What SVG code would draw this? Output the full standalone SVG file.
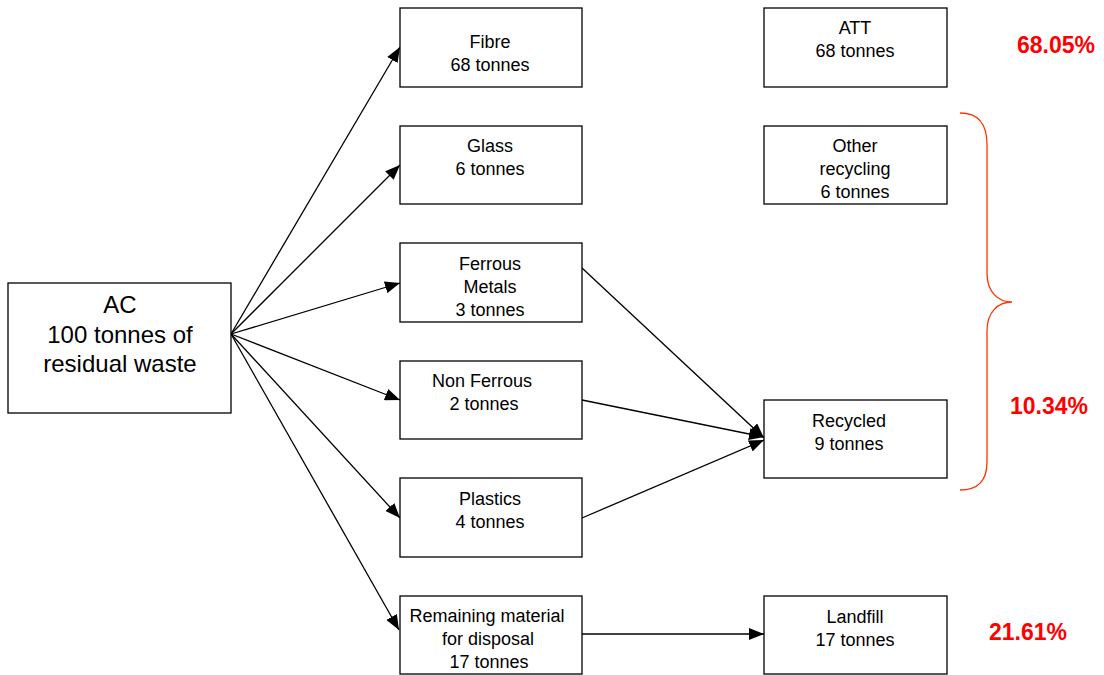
<svg xmlns="http://www.w3.org/2000/svg" width="1104" height="675" viewBox="0 0 1104 675">
<style>
.box{fill:#fff;stroke:#000;stroke-width:1.3}
.t{font-family:"Liberation Sans",Arial,sans-serif;font-size:18px;fill:#000;text-anchor:middle}
.big{font-size:24px}
.pct{font-family:"Liberation Sans",Arial,sans-serif;font-size:23px;font-weight:bold;fill:#f00}
.c{stroke:#000;stroke-width:1.3;fill:none;marker-end:url(#ah)}
</style>
<defs>
<marker id="ah" markerUnits="userSpaceOnUse" markerWidth="16" markerHeight="12" refX="15" refY="6" orient="auto">
<path d="M0,0 L15,6 L0,12 Z" fill="#000"/>
</marker>
</defs>
<rect width="1104" height="675" fill="#fff"/>
<g id="connectors">
<line class="c" x1="231" y1="334" x2="400" y2="47"/>
<line class="c" x1="231" y1="334" x2="400" y2="165"/>
<line class="c" x1="231" y1="334" x2="400" y2="283"/>
<line class="c" x1="231" y1="334" x2="400" y2="400"/>
<line class="c" x1="231" y1="334" x2="400" y2="518"/>
<line class="c" x1="231" y1="334" x2="399" y2="630"/>
<line class="c" x1="582" y1="268" x2="764" y2="438"/>
<line class="c" x1="582" y1="400" x2="764" y2="437"/>
<line class="c" x1="582" y1="518" x2="764" y2="440"/>
<line class="c" x1="582" y1="634" x2="764" y2="634"/>
</g>
<g id="ac"><rect class="box" x="8" y="283" width="223" height="130"/>
<text class="t big" x="120" y="313">AC</text><text class="t big" x="120" y="343">100 tonnes of</text><text class="t big" x="120" y="372">residual waste</text></g>
<g id="fibre"><rect class="box" x="400" y="8" width="182" height="79"/>
<text class="t" x="490" y="48">Fibre</text><text class="t" x="490" y="71">68 tonnes</text></g>
<g id="glass"><rect class="box" x="400" y="126" width="182" height="78"/>
<text class="t" x="490" y="152">Glass</text><text class="t" x="490" y="175">6 tonnes</text></g>
<g id="ferrous"><rect class="box" x="400" y="243" width="182" height="79"/>
<text class="t" x="490" y="270">Ferrous</text><text class="t" x="490" y="293">Metals</text><text class="t" x="490" y="316">3 tonnes</text></g>
<g id="nonferrous"><rect class="box" x="400" y="361" width="182" height="78"/>
<text class="t" x="482" y="387">Non Ferrous</text><text class="t" x="484" y="410">2 tonnes</text></g>
<g id="plastics"><rect class="box" x="400" y="478" width="182" height="79"/>
<text class="t" x="490" y="505">Plastics</text><text class="t" x="490" y="528">4 tonnes</text></g>
<g id="remaining"><rect class="box" x="400" y="596" width="182" height="78"/>
<text class="t" x="487" y="622">Remaining material</text><text class="t" x="488" y="645">for disposal</text><text class="t" x="489" y="668">17 tonnes</text></g>
<g id="att"><rect class="box" x="764" y="8" width="183" height="79"/>
<text class="t" x="855" y="34">ATT</text><text class="t" x="855" y="57">68 tonnes</text></g>
<g id="other"><rect class="box" x="764" y="126" width="183" height="78"/>
<text class="t" x="855" y="152">Other</text><text class="t" x="855" y="175">recycling</text><text class="t" x="855" y="198">6 tonnes</text></g>
<g id="recycled"><rect class="box" x="764" y="400" width="183" height="78"/>
<text class="t" x="849" y="427">Recycled</text><text class="t" x="849" y="450">9 tonnes</text></g>
<g id="landfill"><rect class="box" x="764" y="596" width="183" height="78"/>
<text class="t" x="855" y="623">Landfill</text><text class="t" x="855" y="646">17 tonnes</text></g>
<g id="brace">
<path d="M960,113 C980,113 987,125 987,145 L987,273 C987,292 998,302 1012,302 C998,302 987,312 987,331 L987,462 C987,480 978,490 960,490" fill="none" stroke="#ff3300" stroke-width="1.3"/>
</g>
<g id="percentages">
<text class="pct" x="1017" y="53">68.05%</text>
<text class="pct" x="1010" y="414">10.34%</text>
<text class="pct" x="989" y="640">21.61%</text>
</g>
</svg>
